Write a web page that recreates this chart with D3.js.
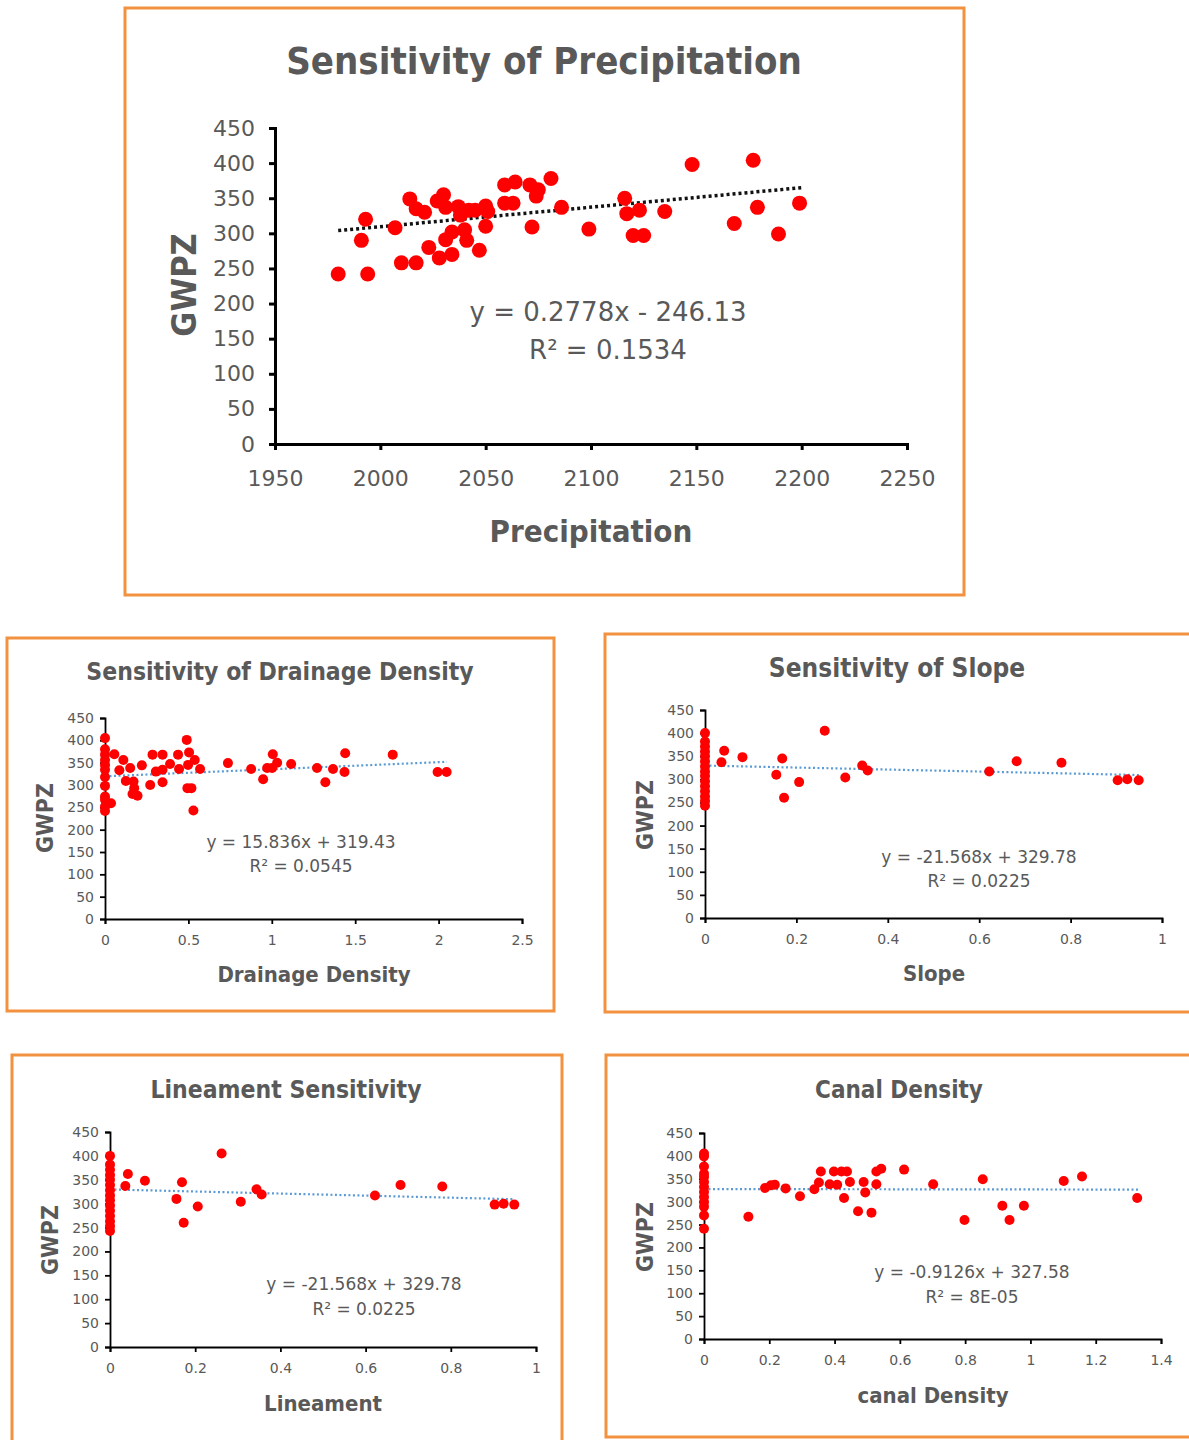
<!DOCTYPE html>
<html>
<head>
<meta charset="utf-8">
<script src="https://cdn.jsdelivr.net/npm/d3@7"></script>
<style>
  body { margin: 0; background: #ffffff; }
  text { font-family: "Comic Sans MS", "DejaVu Sans", sans-serif; fill: #595959; }
  text.head { font-family: "Comic Sans MS", "DejaVu Sans Condensed", "DejaVu Sans", sans-serif; font-stretch: condensed; font-weight: bold; }
</style>
</head>
<body>
<svg id="chart" width="1189" height="1440"></svg>
<script>

// ---- data ----
var precipX = [1980, 1994, 1993, 1991, 2007, 2010, 2017, 2014, 2017, 2021, 2023, 2027, 2030, 2031,
	2028, 2034, 2031, 2034, 2040, 2041, 2037, 2038, 2042, 2045, 2050, 2051, 2050, 2047, 2059, 2064,
	2059, 2063, 2071, 2075, 2074, 2081, 2072, 2086, 2099, 2116, 2117, 2123, 2120, 2125, 2135, 2148,
	2168, 2177, 2179, 2189, 2199];
var precipY = [242, 242, 320, 290, 308, 258, 258, 349, 335, 330, 280, 346, 355, 337,
	265, 270, 291, 302, 305, 290, 338, 326, 333, 333, 339, 331, 310, 276, 369, 373,
	343, 343, 369, 362, 353, 378, 309, 337, 306, 350, 328, 333, 297, 297, 331, 398,
	314, 404, 337, 299, 343];

var drainX = [0, 0, 0, 0, 0, 0, 0, 0, 0, 0, 0, 0, 0.036, 0.056, 0.086, 0.11, 0.125, 0.151, 0.171,
	0.165, 0.195, 0.175, 0.221, 0.271, 0.285, 0.305, 0.345, 0.345, 0.345, 0.39, 0.438, 0.444, 0.49,
	0.504, 0.498, 0.538, 0.494, 0.518, 0.53, 0.57, 0.737, 0.876, 0.948, 0.972, 1.006, 1.002, 1.032,
	1.116, 1.271, 1.321, 1.367, 1.44, 1.436, 1.725, 1.994, 2.048];
var drainY = [405, 380, 368, 356, 345, 334, 318, 298, 274, 267, 252, 242, 259, 369, 333, 356, 309, 338, 308,
	280, 276, 293, 344, 300, 368, 330, 306, 368, 334, 347, 368, 336, 401,
	373, 345, 356, 293, 293, 243, 336, 349, 336, 313, 338, 369, 338, 350,
	347, 338, 306, 336, 371, 329, 368, 329, 329];

var slopeX = [0, 0, 0, 0, 0, 0, 0, 0, 0, 0, 0, 0, 0, 0, 0, 0.036, 0.042, 0.082, 0.156, 0.169, 0.173,
	0.206, 0.262, 0.307, 0.344, 0.356, 0.622, 0.682, 0.78, 0.903, 0.924, 0.949];
var slopeY = [400, 382, 371, 360, 350, 339, 328, 317, 307, 296, 285, 274, 263, 253, 243, 337, 362, 348, 310, 345, 260,
	294, 405, 304, 330, 319, 317, 339, 336, 298, 300, 298];

var lineamentX = slopeX.slice();
var lineamentY = slopeY.slice();

var canalX = [0, 0, 0, 0, 0, 0, 0, 0, 0, 0, 0, 0, 0, 0.136, 0.187, 0.205, 0.217, 0.25, 0.294, 0.338,
	0.352, 0.358, 0.385, 0.398, 0.408, 0.421, 0.438, 0.447, 0.429, 0.472, 0.489, 0.494, 0.513, 0.528,
	0.528, 0.543, 0.613, 0.702, 0.798, 0.854, 0.914, 0.936, 0.98, 1.102, 1.158, 1.327];
var canalY = [405, 399, 377, 361, 354, 343, 332, 321, 310, 299, 289, 270, 241, 267, 330, 336, 337, 329, 312, 327,
	342, 366, 338, 366, 337, 366, 366, 343, 308, 279, 343, 320, 276, 338,
	366, 372, 370, 338, 260, 349, 291, 260, 291, 345, 355, 308];

var yTicks = [0, 50, 100, 150, 200, 250, 300, 350, 400, 450];
var precipTicks = [1950, 2000, 2050, 2100, 2150, 2200, 2250];
var drainTicks = [0, 0.5, 1, 1.5, 2, 2.5];
var unitTicks = [0, 0.2, 0.4, 0.6, 0.8, 1];
var canalTicks = [0, 0.2, 0.4, 0.6, 0.8, 1, 1.2, 1.4];

// trendline: slope, intercept, x range
var precipFit = [0.2778, -246.13, 1980, 2200];
var drainFit = [15.836, 319.43, 0, 2.05];
var slopeFit = [-21.568, 329.78, 0, 0.95];
var canalFit = [-0.9126, 327.58, 0, 1.33];

var svg = d3.select("#chart");

function fmt(v) { return String(+v.toFixed(2)); }

function drawPanel(p) {
	var g = svg.append("g");

	// orange frame
	g.append("rect")
		.attr("x", p.box[0]).attr("y", p.box[1])
		.attr("width", p.box[2]).attr("height", p.box[3])
		.attr("fill", "#ffffff")
		.attr("stroke", "#F2913F")
		.attr("stroke-width", 3);

	var x = d3.scaleLinear().domain([p.xTicks[0], p.xTicks[p.xTicks.length - 1]]).range([p.plot[0], p.plot[1]]);
	var y = d3.scaleLinear().domain([0, 450]).range([p.plot[3], p.plot[2]]);

	var xAxis = g.append("g")
		.attr("transform", "translate(0," + p.plot[3] + ")")
		.call(d3.axisBottom(x).tickValues(p.xTicks).tickFormat(fmt).tickSize(p.tick).tickPadding(p.xPad));
	var yAxis = g.append("g")
		.attr("transform", "translate(" + p.plot[0] + ",0)")
		.call(d3.axisLeft(y).tickValues(yTicks).tickFormat(fmt).tickSize(p.tick).tickPadding(p.yPad));

	[xAxis, yAxis].forEach(function(a) {
		a.select(".domain").attr("stroke", "#000").attr("stroke-width", p.axisW);
		a.selectAll(".tick line").attr("stroke", "#000").attr("stroke-width", p.axisW);
		a.selectAll(".tick text")
			.style("font-size", p.tickFont + "px")
			.attr("fill", "#595959");
	});

	// trendline
	var fit = p.fit;
	g.append("line")
		.attr("x1", x(fit[2])).attr("y1", y(fit[0] * fit[2] + fit[1]))
		.attr("x2", x(fit[3])).attr("y2", y(fit[0] * fit[3] + fit[1]))
		.attr("stroke", p.fitColor)
		.attr("stroke-width", p.fitW)
		.attr("stroke-dasharray", p.fitDash);

	g.selectAll("circle.pt")
		.data(p.xs)
		.enter()
		.append("circle")
		.attr("class", "pt")
		.attr("cx", function(d) { return x(d); })
		.attr("cy", function(d, i) { return y(p.ys[i]); })
		.attr("r", p.r)
		.attr("fill", "#FF0000");

	g.append("text")
		.attr("class", "head")
		.attr("x", p.title[0]).attr("y", p.title[1])
		.attr("text-anchor", "middle").attr("dominant-baseline", "middle")
		.style("font-size", p.title[2] + "px")
		.text(p.title[3]);

	g.append("text")
		.attr("class", "head")
		.attr("x", p.xTitle[0]).attr("y", p.xTitle[1])
		.attr("text-anchor", "middle").attr("dominant-baseline", "middle")
		.style("font-size", p.xTitle[2] + "px")
		.text(p.xTitle[3]);

	g.append("text")
		.attr("class", "head")
		.attr("transform", "translate(" + p.yTitle[0] + "," + p.yTitle[1] + ") rotate(-90)")
		.attr("text-anchor", "middle").attr("dominant-baseline", "middle")
		.style("font-size", p.yTitle[2] + "px")
		.text("GWPZ");

	g.append("text")
		.attr("x", p.eq[0]).attr("y", p.eq[1])
		.attr("text-anchor", "middle").attr("dominant-baseline", "middle")
		.style("font-size", p.eq[3] + "px")
		.text(p.eqText[0]);
	g.append("text")
		.attr("x", p.eq[0]).attr("y", p.eq[2])
		.attr("text-anchor", "middle").attr("dominant-baseline", "middle")
		.style("font-size", p.eq[3] + "px")
		.text(p.eqText[1]);
}

var small = { tick: 5, xPad: 11, yPad: 6, axisW: 1.8, tickFont: 14, fitColor: "#5B9BD5", fitW: 2.2, fitDash: "2,2.5", r: 5 };

drawPanel({
	box: [125, 8, 839, 587], plot: [275, 907, 128, 444],
	xTicks: precipTicks, xs: precipX, ys: precipY, fit: precipFit,
	tick: 6, xPad: 20, yPad: 14, axisW: 3, tickFont: 22,
	fitColor: "#111111", fitW: 3.5, fitDash: "3,3", r: 7.5,
	title: [544, 63, 38, "Sensitivity of Precipitation"],
	xTitle: [591, 533, 31, "Precipitation"],
	yTitle: [186, 285, 34],
	eq: [608, 313, 351, 26], eqText: ["y = 0.2778x - 246.13", "R\u00b2 = 0.1534"]
});

drawPanel(Object.assign({}, small, {
	box: [7, 638, 547, 373], plot: [105, 522, 718, 919],
	xTicks: drainTicks, xs: drainX, ys: drainY, fit: drainFit,
	title: [280, 673, 24.5, "Sensitivity of Drainage Density"],
	xTitle: [314, 976, 22, "Drainage Density"],
	yTitle: [46, 818, 23],
	eq: [301, 843, 867, 17], eqText: ["y = 15.836x + 319.43", "R\u00b2 = 0.0545"]
}));

drawPanel(Object.assign({}, small, {
	box: [605, 634, 586, 378], plot: [705, 1162, 710, 918],
	xTicks: unitTicks, xs: slopeX, ys: slopeY, fit: slopeFit,
	title: [897, 669, 26, "Sensitivity of Slope"],
	xTitle: [934, 975, 22, "Slope"],
	yTitle: [646, 815, 23],
	eq: [979, 858, 882, 17], eqText: ["y = -21.568x + 329.78", "R\u00b2 = 0.0225"]
}));

drawPanel(Object.assign({}, small, {
	box: [12, 1055, 550, 400], plot: [110, 536, 1132, 1347],
	xTicks: unitTicks, xs: lineamentX, ys: lineamentY, fit: slopeFit,
	title: [286, 1091, 24.5, "Lineament Sensitivity"],
	xTitle: [323, 1405, 22, "Lineament"],
	yTitle: [51, 1240, 23],
	eq: [364, 1285, 1310, 17], eqText: ["y = -21.568x + 329.78", "R\u00b2 = 0.0225"]
}));

drawPanel(Object.assign({}, small, {
	box: [606, 1055, 585, 382], plot: [704, 1161, 1133, 1339],
	xTicks: canalTicks, xs: canalX, ys: canalY, fit: canalFit,
	title: [899, 1091, 24, "Canal Density"],
	xTitle: [933, 1397, 22, "canal Density"],
	yTitle: [646, 1237, 23],
	eq: [972, 1273, 1298, 17], eqText: ["y = -0.9126x + 327.58", "R\u00b2 = 8E-05"]
}));
</script>
</body>
</html>
